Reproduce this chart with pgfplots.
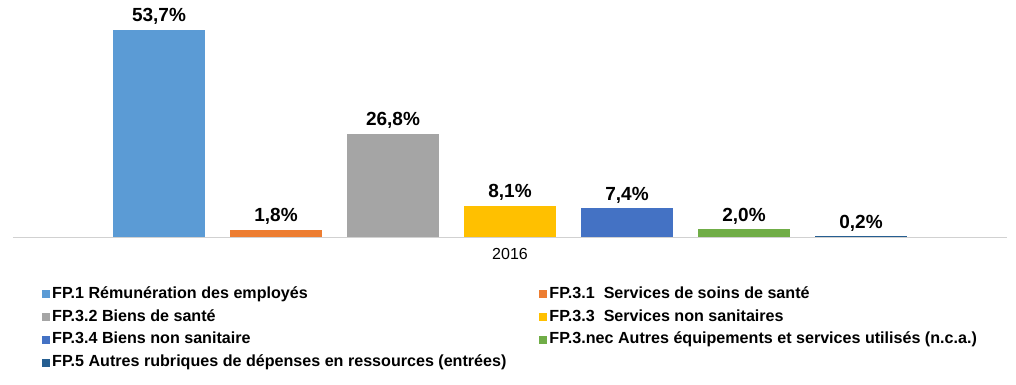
\documentclass[border=0pt]{standalone}
\usepackage{pgfplots}
\pgfplotsset{compat=1.18}
\usepackage{fontspec}
\setmainfont{Liberation Sans}
\definecolor{c1}{HTML}{5B9BD5}
\definecolor{c2}{HTML}{ED7D31}
\definecolor{c3}{HTML}{A5A5A5}
\definecolor{c4}{HTML}{FFC000}
\definecolor{c5}{HTML}{4472C4}
\definecolor{c6}{HTML}{70AD47}
\definecolor{c7}{HTML}{255E91}
\begin{document}
\begin{tikzpicture}
\begin{axis}[
  at={(13pt,148pt)}, anchor=south west,
  scale only axis, width=994pt, height=231.3pt,
  xmin=-1, xmax=1, ymin=0, ymax=60,
  enlarge x limits=false, enlarge y limits=false,
  ybar=25pt, bar width=92pt,
  axis x line=bottom, axis y line=none,
  x axis line style={draw=black!18, line width=0.8pt, -},
  xtick={0}, xticklabels={2016}, major tick length=0pt,
  xticklabel style={font=\fontsize{16}{18}\selectfont, yshift=-8pt},
  ytick=\empty,
  nodes near coords={\pgfmathprintnumber[fixed, fixed zerofill, precision=1, use comma, assume math mode=true]{\pgfplotspointmeta}\%},
  nodes near coords style={font=\bfseries\fontsize{19}{21}\selectfont, anchor=south, inner sep=0pt, text depth=0pt, yshift=8pt},
  legend image code/.code={\fill[#1] (0pt,-4pt) rectangle (8pt,4pt);},
  legend columns=2,
  legend cell align=left,
  legend style={at={(0.02918,-0.214)}, anchor=north west, draw=none, fill=none, inner sep=0pt,
    font=\bfseries\fontsize{16.1}{18}\selectfont,
    nodes={inner sep=0pt, text height=11.5pt, text depth=3.5pt},
    row sep=7.9pt,
    /tikz/every odd column/.append style={column sep=2pt},
    /tikz/every even column/.append style={column sep=33pt}},
]
\addplot[fill=c1, draw=none] coordinates {(0,53.7)};
\addplot[fill=c2, draw=none] coordinates {(0,1.8)};
\addplot[fill=c3, draw=none] coordinates {(0,26.8)};
\addplot[fill=c4, draw=none] coordinates {(0,8.1)};
\addplot[fill=c5, draw=none] coordinates {(0,7.4)};
\addplot[fill=c6, draw=none] coordinates {(0,2.0)};
\addplot[fill=c7, draw=none] coordinates {(0,0.2)};
\legend{FP.1 Rémunération des employés,
  FP.3.1\ \ Services de soins de santé,
  FP.3.2 Biens de santé,
  FP.3.3\ \ Services non sanitaires,
  FP.3.4 Biens non sanitaire,
  FP.3.nec Autres équipements et services utilisés (n.c.a.),
  FP.5 Autres rubriques de dépenses en ressources (entrées)}
\end{axis}
\pgfresetboundingbox
\path (0,0) rectangle (1016pt,385pt);
\end{tikzpicture}
\end{document}
